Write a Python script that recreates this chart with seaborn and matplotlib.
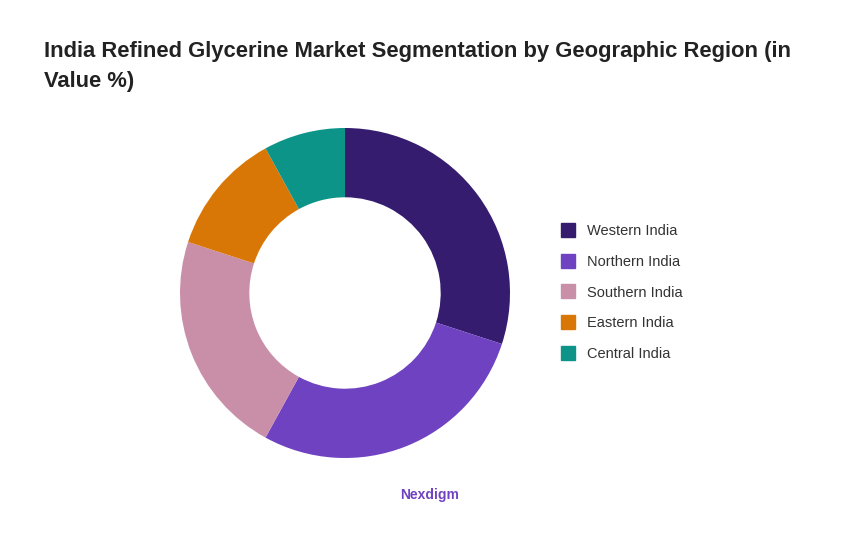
import matplotlib
matplotlib.use("Agg")
from matplotlib import pyplot as plt
from matplotlib.lines import Line2D
import seaborn as sns

regions = ["Western India", "Northern India", "Southern India", "Eastern India", "Central India"]
shares = [30, 28, 22, 12, 8]
colors = ["#351c6f", "#6f42c1", "#c98fa9", "#d97706", "#0d9488"]

sns.set_theme(style="white")
plt.rcParams["font.family"] = ["Liberation Sans", "DejaVu Sans"]

fig = plt.figure(figsize=(8.6, 5.4), dpi=100)
fig.patch.set_facecolor("white")

# donut: centre ~(345, 293) px, outer radius ~165 px
ax = fig.add_axes([(345 - 165) / 860, (540 - 293 - 165) / 540, 330 / 860, 330 / 540])
ax.pie(shares, colors=colors, startangle=90, counterclock=False,
       radius=1.0, wedgeprops=dict(width=0.42, linewidth=0))
ax.set_xlim(-1, 1)
ax.set_ylim(-1, 1)
ax.set_aspect("equal")
ax.axis("off")

fig.text(44 / 860, 1 - 51 / 540, "India Refined Glycerine Market Segmentation by Geographic Region (in",
         fontsize=15.8, fontweight="bold", color="#222222", va="center", ha="left")
fig.text(44 / 860, 1 - 81 / 540, "Value %)",
         fontsize=15.8, fontweight="bold", color="#222222", va="center", ha="left")

handles = [Line2D([0], [0], marker="s", linestyle="none", markersize=10,
                  markerfacecolor=c, markeredgecolor=c) for c in colors]
leg = fig.legend(handles, regions, loc="upper left",
                 bbox_to_anchor=(556 / 860, 1 - 224 / 540), frameon=False,
                 fontsize=10.5, labelspacing=1.15, handlelength=1.6, handletextpad=0.5,
                 borderaxespad=0, borderpad=0)
for t in leg.get_texts():
    t.set_color("#333333")

fig.text(430 / 860, 1 - 495 / 540, "Nexdigm", fontsize=10, fontweight="bold",
         color="#6f42c1", ha="center", va="center")

fig.savefig("out.png", dpi=100, facecolor="white")
